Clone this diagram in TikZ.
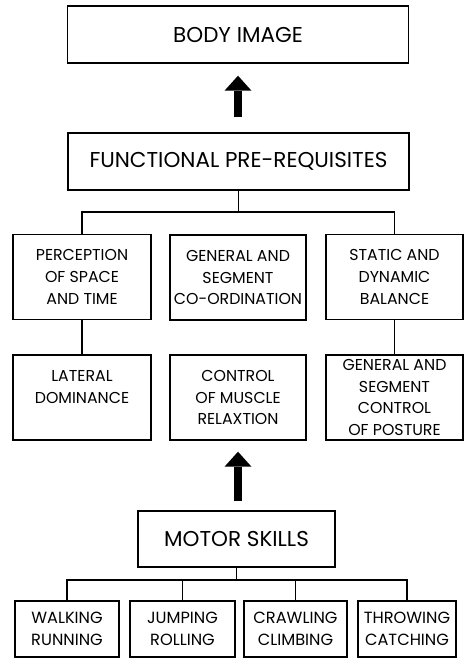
\documentclass[tikz,border=0pt]{standalone}
\usepackage{fontspec}
\setmainfont{Poppins}
\usetikzlibrary{arrows.meta}
\begin{document}
\begin{tikzpicture}[x=1pt,y=-1pt,
  box/.style={draw,line width=1.4pt,rectangle,inner sep=0pt,align=center},
  bigbox/.style={box,minimum width=341pt,minimum height=57pt,
    font=\fontsize{21.5}{26}\selectfont},
  midbox/.style={box,minimum width=137pt,minimum height=85pt,
    font=\fontsize{15.8}{21.7}\selectfont},
  skillbox/.style={box,minimum height=56pt,
    font=\fontsize{16.2}{22}\selectfont},
  link/.style={line width=1.1pt},
  fatarrow/.style={line width=8pt,
    -{Triangle[width=27pt,length=15pt,line width=0pt]}}]
\useasboundingbox (0,0) rectangle (464,658);

% top of the hierarchy
\node[bigbox] (bi) at (238,34.5) {BODY IMAGE};
\node[bigbox] (fp) at (238.5,161.5) {FUNCTIONAL PRE-REQUISITES};

% the six functional pre-requisites
\node[midbox,minimum width=138pt] (r1a) at (82,277) {PERCEPTION\\OF SPACE\\AND TIME};
\node[midbox,minimum width=136pt] (r1b) at (238,277.5) {GENERAL AND\\SEGMENT\\CO-ORDINATION};
\node[midbox] (r1c) at (394.5,277) {STATIC AND\\DYNAMIC\\BALANCE};
\node[midbox,minimum width=138pt] (r2a) at (82,397.5) {LATERAL\\DOMINANCE\\\phantom{X}};
\node[midbox,minimum width=136pt] (r2b) at (238,397.5) {CONTROL\\OF MUSCLE\\RELAXTION};
\node[midbox] (r2c) at (394.5,397.5) {GENERAL AND\\SEGMENT\\CONTROL\\OF POSTURE};

% motor skills and their components
\node[bigbox,minimum width=197pt,minimum height=56pt] (ms) at (236.5,539) {MOTOR SKILLS};
\node[skillbox,minimum width=104pt] (b1) at (67,629) {WALKING\\RUNNING};
\node[skillbox,minimum width=105pt] (b2) at (182.5,629) {JUMPING\\ROLLING};
\node[skillbox,minimum width=103pt] (b3) at (295.5,629) {CRAWLING\\CLIMBING};
\node[skillbox,minimum width=98pt] (b4) at (407,629) {THROWING\\CATCHING};

% junction points of the tree connectors
\coordinate (j1) at (238.5,212);
\coordinate (j2) at (236.5,580);

% tree connectors
\draw[link] (fp.south) -- (j1);
\draw[link] (r1a.north) -- (r1a.north |- j1) -- (r1c.north |- j1) -- (r1c.north);
\draw[link] (r1a.south) -- (r2a.north);
\draw[link] (r1c.south) -- (r2c.north);
\draw[link] (ms.south) -- (j2);
\draw[link] (b1.north) -- (b1.north |- j2) -- (b4.north |- j2) -- (b4.north);
\draw[link] (b2.north) -- (b2.north |- j2);
\draw[link] (b3.north) -- (b3.north |- j2);

% heavy arrows
\draw[fatarrow,shorten <=15pt,shorten >=12pt] (fp.north -| bi.south) -- (bi.south);
\draw[fatarrow,shorten <=9pt,shorten >=11pt] (ms.north -| r2b.south) -- (r2b.south);
\end{tikzpicture}
\end{document}
